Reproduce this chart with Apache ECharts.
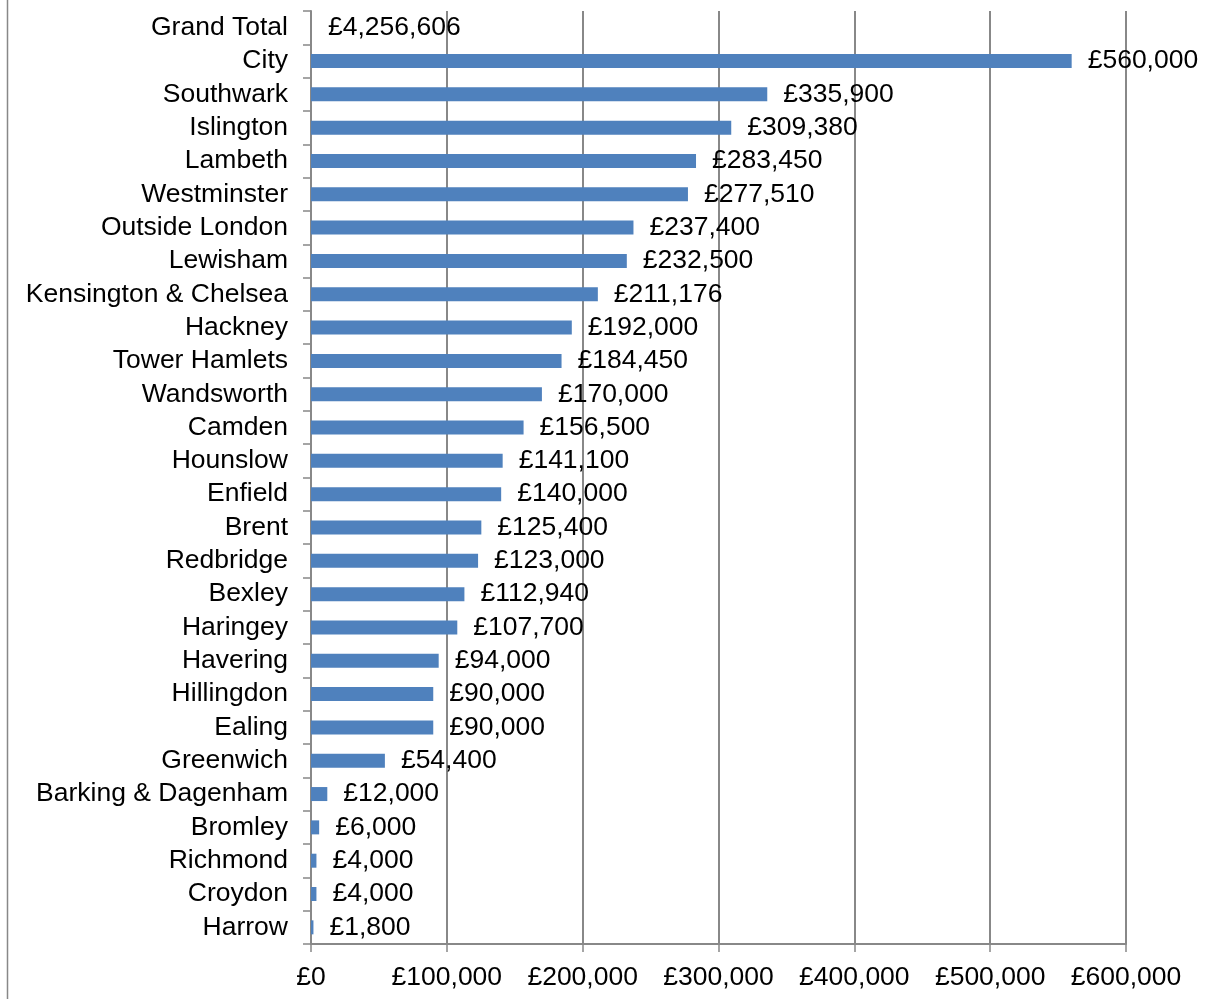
<!DOCTYPE html>
<html>
<head>
<meta charset="utf-8">
<style>
  html, body { margin: 0; padding: 0; background: #ffffff; }
  #chart { width: 1205px; height: 999px; }
</style>
<script src="https://cdn.jsdelivr.net/npm/echarts@6/dist/echarts.min.js"></script>
</head>
<body>
<div id="chart"></div>
<script>
// Funding by borough, largest first; the total row sits on top
const boroughs = [
  'Grand Total', 'City', 'Southwark', 'Islington', 'Lambeth', 'Westminster',
  'Outside London', 'Lewisham', 'Kensington & Chelsea', 'Hackney',
  'Tower Hamlets', 'Wandsworth', 'Camden', 'Hounslow', 'Enfield', 'Brent',
  'Redbridge', 'Bexley', 'Haringey', 'Havering', 'Hillingdon', 'Ealing',
  'Greenwich', 'Barking & Dagenham', 'Bromley', 'Richmond', 'Croydon', 'Harrow'
];
const amounts = [
  4256606, 560000, 335900, 309380, 283450, 277510,
  237400, 232500, 211176, 192000,
  184450, 170000, 156500, 141100, 140000, 125400,
  123000, 112940, 107700, 94000, 90000, 90000,
  54400, 12000, 6000, 4000, 4000, 1800
];
const axisTicks = [0, 100000, 200000, 300000, 400000, 500000, 600000];

const fmt = new Intl.NumberFormat('en-GB');
const money = v => '£' + fmt.format(v);

const FONT = '"Liberation Sans", Arial, sans-serif';
const GREY = '#888888';
const SIZE = 26.5;

const seriesData = amounts.map((v, i) => {
  if (boroughs[i] === 'Grand Total') {
    // total is far off the scale: bar hidden, label kept at the start
    return {
      value: v,
      itemStyle: { color: 'rgba(0,0,0,0)' },
      label: { position: 'insideLeft', distance: 17 }
    };
  }
  return v;
});

const chart = echarts.init(document.getElementById('chart'), null, { renderer: 'canvas' });
chart.setOption({
  animation: false,
  backgroundColor: '#ffffff',
  textStyle: { fontFamily: FONT },
  grid: { left: 311, right: 79, top: 11, bottom: 55, containLabel: false },
  xAxis: {
    type: 'value',
    min: axisTicks[0],
    max: axisTicks[axisTicks.length - 1],
    interval: axisTicks[1] - axisTicks[0],
    axisLine: { show: true, lineStyle: { color: GREY, width: 2 } },
    axisTick: { show: true, length: 8, lineStyle: { color: GREY, width: 1.5 } },
    splitLine: { show: true, lineStyle: { color: GREY, width: 2 } },
    axisLabel: {
      formatter: money,
      fontSize: SIZE,
      color: '#000',
      fontFamily: FONT,
      margin: 20
    }
  },
  yAxis: {
    type: 'category',
    inverse: true,
    data: boroughs,
    axisLine: { show: true, lineStyle: { color: GREY, width: 2 } },
    axisTick: { show: true, length: 8, lineStyle: { color: GREY, width: 1.5 } },
    splitLine: { show: false },
    axisLabel: {
      fontSize: SIZE,
      color: '#000',
      fontFamily: FONT,
      margin: 23,
      interval: 0
    }
  },
  series: [{
    type: 'bar',
    data: seriesData,
    barWidth: 14,
    itemStyle: { color: '#4F81BD' },
    label: {
      show: true,
      position: 'right',
      distance: 16,
      formatter: p => money(p.value),
      fontSize: SIZE,
      color: '#000',
      fontFamily: FONT
    }
  }],
  graphic: [{
    type: 'line',
    shape: { x1: 7.5, y1: 0, x2: 7.5, y2: 999 },
    style: { stroke: GREY, lineWidth: 1.5 }
  }]
});
</script>
</body>
</html>
